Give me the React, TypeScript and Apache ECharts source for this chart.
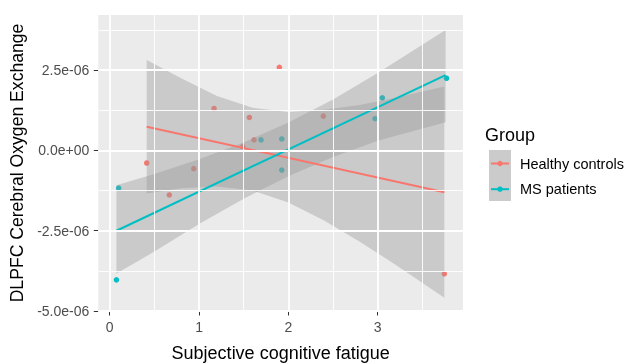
import React, { useEffect, useRef } from "react";
import * as echarts from "echarts";

// ---- data ----
const groups = ["Healthy controls", "MS patients"];
const groupColors = ["#F8766D", "#00BFC4"];

const hcX = [0.414, 0.667, 0.94, 1.168, 1.489, 1.563, 1.615, 1.899, 2.391, 3.746];
const hcY = [-0.39e-6, -1.385e-6, -0.566e-6, 1.31e-6, 0.12e-6, 1.03e-6, 0.33e-6, 2.59e-6, 1.07e-6, -3.84e-6];

const msX = [0.075, 0.1, 1.694, 1.926, 1.926, 2.97, 3.052, 3.77];
const msY = [-4.03e-6, -1.17e-6, 0.33e-6, 0.36e-6, -0.61e-6, 0.99e-6, 1.64e-6, 2.25e-6];

const hcFitX = [0.414, 3.746];
const hcFitY = [0.74e-6, -1.3e-6];
const msFitX = [0.075, 3.76];
const msFitY = [-2.5e-6, 2.35e-6];

const hcBandX = [0.414, 0.8, 1.2, 1.6, 2.0, 2.4, 2.8, 3.2, 3.746];
const hcBandLo = [-1.34e-6, -1.18e-6, -1.12e-6, -1.25e-6, -1.62e-6, -2.18e-6, -2.84e-6, -3.56e-6, -4.59e-6];
const hcBandHi = [2.82e-6, 2.25e-6, 1.7e-6, 1.33e-6, 1.2e-6, 1.27e-6, 1.42e-6, 1.64e-6, 1.99e-6];

const msBandX = [0.075, 0.5, 1.0, 1.5, 2.0, 2.5, 3.0, 3.76];
const msBandLo = [-3.83e-6, -3.15e-6, -2.29e-6, -1.5e-6, -0.8e-6, -0.2e-6, 0.3e-6, 0.88e-6];
const msBandHi = [-1.08e-6, -0.73e-6, -0.27e-6, 0.25e-6, 0.87e-6, 1.59e-6, 2.41e-6, 3.75e-6];

const xTicks = [0, 1, 2, 3];
const xTickLabels = ["0", "1", "2", "3"];
const xMinor = [0.5, 1.5, 2.5, 3.5];
const yTicks = [-5e-6, -2.5e-6, 0, 2.5e-6];
const yTickLabels = ["-5.0e-06", "-2.5e-06", "0.0e+00", "2.5e-06"];
const yMinor = [-3.75e-6, -1.25e-6, 1.25e-6, 3.75e-6];

const FONT = "Liberation Sans, Arial, sans-serif";

function lookup(ticks: number[], labels: string[], v: number): string {
  for (let i = 0; i < ticks.length; i++) {
    if (Math.abs(ticks[i] - v) < Math.max(1e-12, Math.abs(ticks[i]) * 1e-6 + 1e-12)) return labels[i];
  }
  return "";
}

function bandSeries(name: string, bx: number[], lo: number[], hi: number[]) {
  return {
    type: "custom",
    name,
    z: 3,
    silent: true,
    data: bx.map((x, i) => [x, lo[i], hi[i]]),
    encode: { x: 0, y: [1, 2] },
    renderItem: (params: any, api: any) => {
      if (params.dataIndex !== 0) return null;
      const pts: number[][] = [];
      for (let i = 0; i < bx.length; i++) pts.push(api.coord([bx[i], hi[i]]));
      for (let i = bx.length - 1; i >= 0; i--) pts.push(api.coord([bx[i], lo[i]]));
      return {
        type: "polygon",
        shape: { points: pts },
        style: { fill: "rgba(153,153,153,0.4)", stroke: "none" },
      };
    },
  };
}

export default function App() {
  const ref = useRef<HTMLDivElement>(null);
  useEffect(() => {
    if (!ref.current) return;
    const chart = echarts.init(ref.current, undefined, { renderer: "svg" });

    const gridLines = [
      ...xTicks.map((v) => ({ xAxis: v, lineStyle: { width: 1.8 } })),
      ...xMinor.map((v) => ({ xAxis: v, lineStyle: { width: 0.9 } })),
      ...yTicks.map((v) => ({ yAxis: v, lineStyle: { width: 1.8 } })),
      ...yMinor.map((v) => ({ yAxis: v, lineStyle: { width: 0.9 } })),
    ];

    const legendGraphics: any[] = [
      {
        type: "text",
        x: 485,
        y: 135,
        style: { text: "Group", fontSize: 18, fontFamily: FONT, fill: "#000", verticalAlign: "middle" },
      },
      {
        type: "rect",
        shape: { x: 489, y: 150, width: 22, height: 51 },
        style: { fill: "#CBCBCB" },
      },
    ];
    groups.forEach((g, i) => {
      const cy = 163.5 + i * 25.7;
      legendGraphics.push(
        { type: "line", shape: { x1: 491, y1: cy, x2: 509, y2: cy }, style: { stroke: groupColors[i], lineWidth: 2 } },
        { type: "circle", shape: { cx: 500, cy, r: 2.7 }, style: { fill: groupColors[i] } },
        {
          type: "text",
          x: 520,
          y: cy,
          style: { text: g, fontSize: 14.5, fontFamily: FONT, fill: "#000", verticalAlign: "middle" },
        }
      );
    });

    chart.setOption({
      animation: false,
      textStyle: { fontFamily: FONT },
      grid: {
        left: 98.3,
        right: 166,
        top: 15,
        bottom: 53,
        show: true,
        backgroundColor: "#EBEBEB",
        borderWidth: 0,
        containLabel: false,
        outerBoundsMode: "none",
      },
      xAxis: {
        type: "value",
        min: -0.128,
        max: 3.955,
        splitLine: { show: false },
        axisLine: { show: false, onZero: false },
        axisTick: { show: true, length: 4.5, lineStyle: { color: "#333333", width: 1 }, customValues: xTicks },
        axisLabel: {
          customValues: xTicks,
          formatter: (v: number) => lookup(xTicks, xTickLabels, v),
          color: "#4D4D4D",
          fontSize: 14,
          margin: 9,
          fontFamily: FONT,
        },
        name: "Subjective cognitive fatigue",
        nameLocation: "middle",
        nameGap: 33,
        nameTextStyle: { fontSize: 18, color: "#000", fontFamily: FONT },
      },
      yAxis: {
        type: "value",
        min: -5e-6,
        max: 4.22e-6,
        splitLine: { show: false },
        axisLine: { show: false, onZero: false },
        axisTick: { show: true, length: 4.5, lineStyle: { color: "#333333", width: 1 }, customValues: yTicks },
        axisLabel: {
          customValues: yTicks,
          formatter: (v: number) => lookup(yTicks, yTickLabels, v),
          color: "#4D4D4D",
          fontSize: 14,
          margin: 9,
          fontFamily: FONT,
        },
        name: "DLPFC Cerebral Oxygen Exchange",
        nameLocation: "middle",
        nameGap: 71,
        nameRotate: 90,
        nameTextStyle: { fontSize: 17.6, color: "#000", fontFamily: FONT },
      },
      graphic: legendGraphics,
      series: [
        {
          type: "scatter",
          data: [],
          z: 1,
          silent: true,
          markLine: {
            silent: true,
            precision: 12,
            symbol: ["none", "none"],
            label: { show: false },
            lineStyle: { color: "#FFFFFF", type: "solid" },
            emphasis: { disabled: true },
            data: gridLines,
          },
        },
        {
          type: "scatter",
          name: groups[0],
          z: 2,
          symbolSize: 5.5,
          itemStyle: { color: groupColors[0], opacity: 1 },
          data: hcX.map((x, i) => [x, hcY[i]]),
        },
        {
          type: "scatter",
          name: groups[1],
          z: 2,
          symbolSize: 5.5,
          itemStyle: { color: groupColors[1], opacity: 1 },
          data: msX.map((x, i) => [x, msY[i]]),
        },
        bandSeries("hcBand", hcBandX, hcBandLo, hcBandHi),
        bandSeries("msBand", msBandX, msBandLo, msBandHi),
        {
          type: "line",
          name: groups[0] + " fit",
          z: 4,
          showSymbol: false,
          lineStyle: { color: groupColors[0], width: 2 },
          data: hcFitX.map((x, i) => [x, hcFitY[i]]),
        },
        {
          type: "line",
          name: groups[1] + " fit",
          z: 4,
          showSymbol: false,
          lineStyle: { color: groupColors[1], width: 2 },
          data: msFitX.map((x, i) => [x, msFitY[i]]),
        },
      ],
    });
    return () => chart.dispose();
  }, []);
  return <div ref={ref} style={{ position: "fixed", left: 0, top: 0, width: 629, height: 364 }} />;
}
